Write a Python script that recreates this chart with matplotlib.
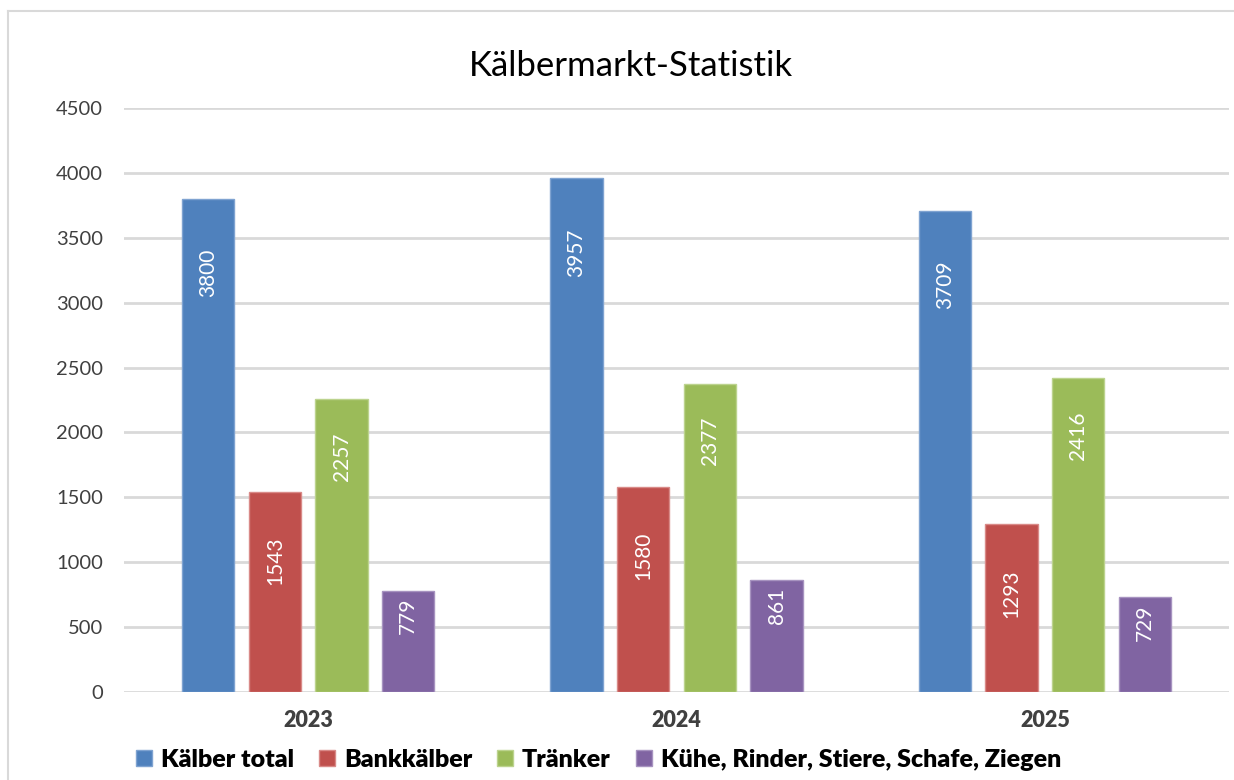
import matplotlib
matplotlib.use('Agg')
from matplotlib import pyplot as plt
from matplotlib.lines import Line2D
import numpy as np

plt.rcParams['font.family'] = ['Lato', 'DejaVu Sans']

years = ['2023', '2024', '2025']
series = ['Kälber total', 'Bankkälber', 'Tränker', 'Kühe, Rinder, Stiere, Schafe, Ziegen']
kaelber_total = [3800, 3957, 3709]
bankkaelber = [1543, 1580, 1293]
traenker = [2257, 2377, 2416]
kuehe_etc = [779, 861, 729]
colors = ['#4F81BD', '#C0504D', '#9BBB59', '#8064A2']
edges = ['#7FA3D1', '#D98A88', '#BCD38E', '#A793C0']
# label distance below bar top (pixels), per series
label_drop = [50, 45, 33, 7]

fig = plt.figure(figsize=(12.34, 7.8), dpi=100)
ax = fig.add_axes([0.1005, 0.1128, 0.8955, 0.7487])

x = np.arange(len(years))
step = 0.181
width = 0.142
for i, (vals, name) in enumerate(zip([kaelber_total, bankkaelber, traenker, kuehe_etc], series)):
    pos = x + (i - 1.5) * step
    ax.bar(pos, vals, width, color=colors[i], edgecolor=edges[i], linewidth=1, label=name, zorder=3)
    for p, v in zip(pos, vals):
        ax.annotate(str(v), (p, v), xytext=(0, -label_drop[i]), textcoords='offset pixels',
                    rotation=90, ha='center', va='top', color='white', fontsize=15, zorder=4)

ax.set_xlim(-0.5, 2.5)
ax.set_ylim(0, 4500)
ax.set_yticks(np.arange(0, 4501, 500))
ax.set_xticks(x)
ax.set_xticklabels(years, fontweight='heavy', fontsize=15.5, color='#404040')
ax.tick_params(axis='y', labelsize=14.5, labelcolor='#404040', length=0, pad=15)
ax.tick_params(axis='x', length=0, pad=13)
ax.grid(axis='y', color='#D9D9D9', linewidth=2, zorder=0)
for s in ax.spines.values():
    s.set_visible(False)

fig.text(0.511, 0.915, 'Kälbermarkt-Statistik', ha='center', va='center', fontsize=25, color='black')

fig.legend(loc='center', bbox_to_anchor=(0.485, 0.026), ncol=4, frameon=False,
           prop={'weight': 'heavy', 'size': 18}, handlelength=0.65, handleheight=0.65,
           handletextpad=0.35, columnspacing=1.0)

# outer chart border (left and top only visible)
fig.add_artist(Line2D([8 / 1234, 8 / 1234], [0, 1 - 11 / 780], color='#D9D9D9', lw=1.5))
fig.add_artist(Line2D([8 / 1234, 1], [1 - 11 / 780, 1 - 11 / 780], color='#D9D9D9', lw=1.5))

fig.savefig('out.png', dpi=100)
